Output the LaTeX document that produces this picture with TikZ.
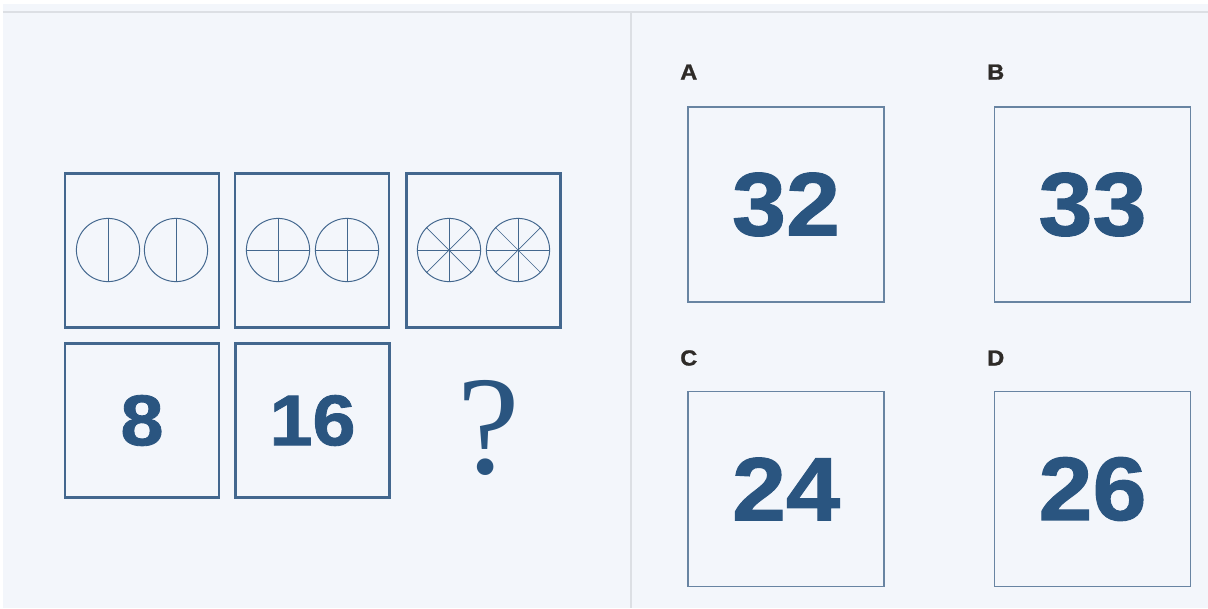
\documentclass[tikz,border=0pt]{standalone}
\usepackage{fontspec}
\setmainfont{Liberation Sans}
\newfontfamily\numfont{Liberation Sans}[BoldFeatures={FakeStretch=1.08,FakeBold=1.2}]
\newfontfamily\qmarkfont{Liberation Serif}
\usepackage{xcolor}
\usetikzlibrary{positioning}
\definecolor{panelbg}{HTML}{F3F6FB}
\definecolor{rulegray}{HTML}{DCDFE4}
\definecolor{boxblue}{HTML}{43678E}
\definecolor{optblue}{HTML}{6884A2}
\definecolor{numblue}{HTML}{2A5580}
\definecolor{labdark}{HTML}{2E2B28}

\begin{document}
\begin{tikzpicture}[
  x=0.025cm, y=-0.025cm,
  figbox/.style={rectangle, draw=boxblue, line width=2pt, minimum width=3.85cm, minimum height=3.83cm, inner sep=0pt},
  optbox/.style={rectangle, draw=optblue, line width=1pt, minimum width=4.9cm, minimum height=4.88cm, inner sep=0pt,
    text=numblue, font=\fontsize{64}{64}\numfont\bfseries},
  numtext/.style={text=numblue, font=\fontsize{51}{51}\numfont\bfseries},
  optlabel/.style={anchor=west, inner sep=0pt, text=labdark, font=\fontsize{15.5}{15.5}\numfont\bfseries},
  ring/.style={circle, draw=boxblue, line width=0.7pt, minimum size=1.58cm, inner sep=0pt},
  spoke/.style={draw=boxblue, line width=0.5pt}
]
% background and panel rules
\useasboundingbox (0,0) rectangle (1208,608);
\fill[white] (0,0) rectangle (1208,608);
\fill[panelbg] (3,4) rectangle (1208,608);
\draw[rulegray, line width=1pt] (3,12) -- (1208,12);
\draw[rulegray, line width=1pt] (631,12) -- (631,608);

% question figures
\node[figbox] (fig1) at (142,250.5) {};
\node[figbox] (fig2) at (312,250.5) {};
\node[figbox] (fig3) at (483.5,250.5) {};
\node[figbox, numtext] (fig4) at (142,420.5) {8};
\node[figbox, numtext] (fig5) at (312.5,420.5) {16};
\node[text=numblue, font=\fontsize{100}{100}\qmarkfont] (qmark) at (489,428) {?};

% circles with spokes
\node[ring] (c1a) at (108,250) {};
\node[ring] (c1b) at (176,250) {};
\node[ring] (c2a) at (278,250) {};
\node[ring] (c2b) at (347,250) {};
\node[ring] (c3a) at (449,250) {};
\node[ring] (c3b) at (518,250) {};
\foreach \c in {c1a,c1b,c2a,c2b,c3a,c3b}
  \draw[spoke] (\c.north) -- (\c.south);
\foreach \c in {c2a,c2b,c3a,c3b}
  \draw[spoke] (\c.west) -- (\c.east);
\foreach \c in {c3a,c3b} {
  \draw[spoke] (\c.45) -- (\c.225);
  \draw[spoke] (\c.135) -- (\c.315);
}

% answer options
\node[optbox] (optA) at (786,204.5) {32};
\node[optbox] (optB) at (1092.5,204.5) {33};
\node[optbox] (optC) at (786,489) {24};
\node[optbox] (optD) at (1092.5,489) {26};
\node[optlabel] (labA) at (680,72) {A};
\node[optlabel] (labB) at (987,72) {B};
\node[optlabel] (labC) at (680,358) {C};
\node[optlabel] (labD) at (987,358) {D};
\end{tikzpicture}
\end{document}
